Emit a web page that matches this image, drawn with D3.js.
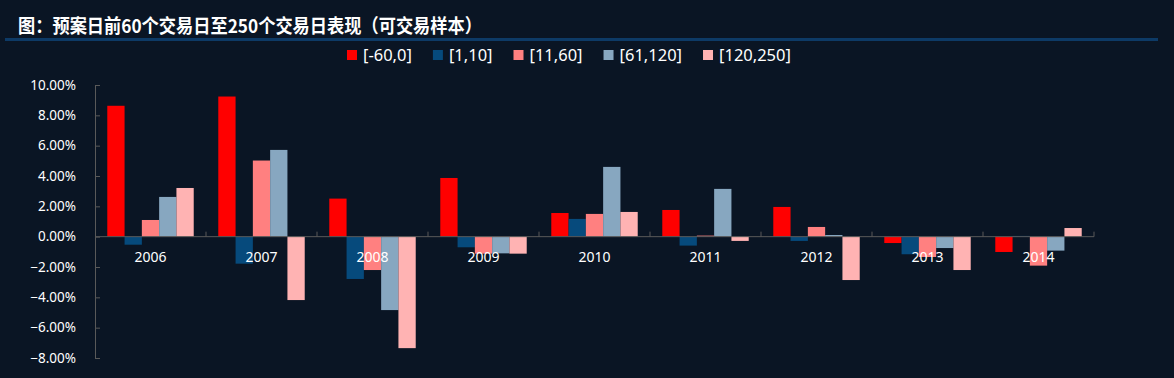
<!DOCTYPE html>
<html>
<head>
<meta charset="utf-8">
<script src="https://cdn.jsdelivr.net/npm/d3@7"></script>
<style>
  html, body { margin: 0; padding: 0; background: #0a1524; }
  svg { display: block; }
</style>
</head>
<body>
<svg id="chart" width="1174" height="378"></svg>
<script>
// ---- data ----
const years = ["2006", "2007", "2008", "2009", "2010", "2011", "2012", "2013", "2014"];
const seriesNames = ["[-60,0]", "[1,10]", "[11,60]", "[61,120]", "[120,250]"];
const s_m60_0    = [ 8.63,  9.24,  2.51,  3.87, 1.56,  1.76,  1.96, -0.42, -1.01];
const s_1_10     = [-0.53, -1.78, -2.79, -0.70, 1.17, -0.59, -0.28, -1.16,  0.05];
const s_11_60    = [ 1.10,  5.02, -2.20, -1.12, 1.50,  0.07,  0.64, -1.34, -1.91];
const s_61_120   = [ 2.62,  5.72, -4.84, -1.10, 4.60,  3.15,  0.11, -0.75, -0.92];
const s_120_250  = [ 3.21, -4.18, -7.35, -1.12, 1.63, -0.28, -2.86, -2.20,  0.57];
const yTicks = [-8, -6, -4, -2, 0, 2, 4, 6, 8, 10];
const title = "图：预案日前60个交易日至250个交易日表现（可交易样本）";

const seriesValues = [s_m60_0, s_1_10, s_11_60, s_61_120, s_120_250];
const colors = ["#ff0000", "#064a7c", "#ff8080", "#87a7c0", "#ffb3b3"];

const svg = d3.select("#chart");
const W = 1174, H = 378;
const plot = { left: 95, right: 1094, top: 85, bottom: 358 };

// background
svg.append("rect").attr("width", W).attr("height", H).attr("fill", "#0a1524");

// title
svg.append("text")
  .attr("x", 18).attr("y", 33)
  .attr("fill", "#ffffff")
  .attr("font-family", "'Noto Sans CJK SC', sans-serif")
  .attr("font-weight", "bold")
  .attr("font-size", 19)
  .attr("textLength", 464)
  .attr("lengthAdjust", "spacingAndGlyphs")
  .text(title);
svg.append("rect").attr("x", 5).attr("y", 38).attr("width", 1153).attr("height", 3).attr("fill", "#0d3a66");

// scales
const x0 = d3.scaleBand().domain(years).range([plot.left, plot.right]).padding(0);
const x1 = d3.scaleBand().domain(seriesNames).range([0, x0.bandwidth()]).paddingInner(0).paddingOuter(0.71);
const y = d3.scaleLinear().domain([-8, 10]).range([plot.bottom, plot.top]);

// bars
const groups = svg.append("g").selectAll("g").data(years).join("g")
  .attr("transform", d => `translate(${x0(d)},0)`);
groups.selectAll("rect")
  .data((d, i) => seriesNames.map((s, j) => ({ s, v: seriesValues[j][i], c: colors[j] })))
  .join("rect")
  .attr("x", d => x1(d.s))
  .attr("width", x1.bandwidth())
  .attr("y", d => y(Math.max(0, d.v)))
  .attr("height", d => Math.abs(y(d.v) - y(0)))
  .attr("fill", d => d.c);

// y axis
const yAxis = d3.axisLeft(y).tickValues(yTicks).tickSizeInner(-5).tickSizeOuter(0).tickPadding(19)
  .tickFormat(d => d3.format(".2f")(d) + "%");
const gy = svg.append("g").attr("transform", `translate(${plot.left},0)`).call(yAxis);
gy.select(".domain").attr("stroke", "#595959");
gy.selectAll(".tick line").attr("stroke", "#595959");
gy.selectAll("text").attr("fill", "#ffffff").attr("font-size", 13.5)
  .attr("font-family", "'Noto Sans', 'DejaVu Sans', sans-serif");

// x axis baseline with boundary ticks
const gx = svg.append("g");
gx.append("line").attr("x1", plot.left).attr("x2", plot.right)
  .attr("y1", y(0)).attr("y2", y(0)).attr("stroke", "#595959");
const bounds = years.map(d => x0(d) + x0.bandwidth());
gx.selectAll("line.tk").data(bounds).join("line").attr("class", "tk")
  .attr("x1", d => d).attr("x2", d => d)
  .attr("y1", y(0)).attr("y2", y(0) - 5).attr("stroke", "#595959");
gx.selectAll("text").data(years).join("text")
  .attr("x", d => x0(d) + x0.bandwidth() / 2)
  .attr("y", y(0) + 25)
  .attr("text-anchor", "middle")
  .attr("fill", "#ffffff")
  .attr("font-size", 14)
  .attr("font-family", "'Noto Sans', 'DejaVu Sans', sans-serif")
  .text(d => d);

// legend
const lg = svg.append("g");
let lx = 347;
seriesNames.forEach((s, j) => {
  lg.append("rect").attr("x", lx).attr("y", 50).attr("width", 10).attr("height", 10).attr("fill", colors[j]);
  const t = lg.append("text").attr("x", lx + 16).attr("y", 61)
    .attr("fill", "#ffffff").attr("font-size", 16.5)
    .attr("font-family", "'Noto Sans', 'DejaVu Sans', sans-serif")
    .text(s);
  lx += 16 + t.node().getComputedTextLength() + 21;
});
</script>
</body>
</html>
